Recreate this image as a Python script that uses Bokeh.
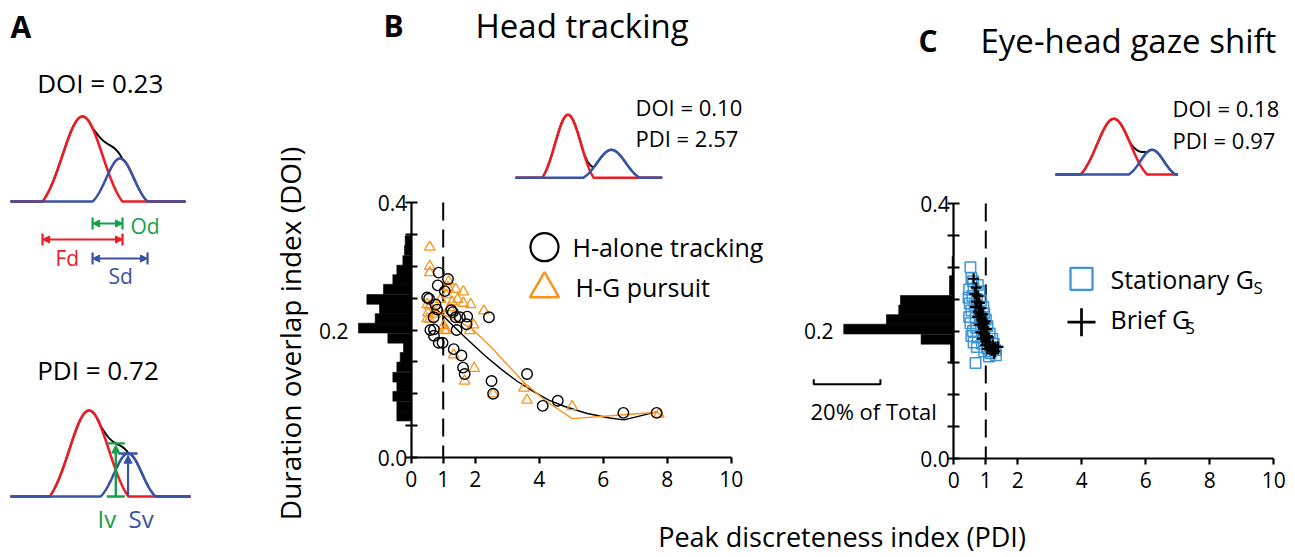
import numpy as np
from bokeh.plotting import figure
from bokeh.models import (Range1d, LinearAxis, FixedTicker, Label, Arrow, NormalHead,
                          PrintfTickFormatter)
from bokeh.embed import file_html
from bokeh.resources import INLINE

FONT = "Open Sans"

# ---------------- data ----------------
# DOI histogram bins (shared by both panels), values in % of total
doi_bin_centers = [0.065, 0.080, 0.096, 0.111, 0.126, 0.142, 0.157, 0.172, 0.187, 0.203,
                   0.218, 0.233, 0.248, 0.264, 0.279, 0.294, 0.309, 0.325, 0.340]
doi_bin_width = 0.0153
head_hist_pct = [4.3, 4.3, 5.5, 4.3, 5.5, 4.3, 3.3, 2.3, 7.0, 15.8,
                 10.8, 9.5, 13.3, 8.3, 5.5, 4.3, 2.5, 2.0, 1.8]
gaze_hist_pct = [0, 0, 0, 0, 0, 0, 1.0, 1.0, 9.8, 33.0,
                 20.2, 16.5, 16.0, 1.3, 1.3, 0.5, 0.5, 0, 0]

# Panel B: head tracking
halone_pdi = [0.86, 1.15, 0.83, 1.05, 0.50, 0.56, 0.76, 0.81, 0.70, 1.25, 1.30, 1.39, 1.52,
              1.75, 1.73, 2.43, 0.60, 0.71, 1.42, 0.71, 0.86, 0.98, 1.33, 1.57, 1.62, 1.67,
              2.51, 2.56, 3.62, 4.11, 4.58, 6.63, 7.67]
halone_doi = [0.290, 0.280, 0.270, 0.261, 0.251, 0.249, 0.240, 0.232, 0.220, 0.231, 0.228,
              0.220, 0.220, 0.221, 0.209, 0.220, 0.200, 0.201, 0.200, 0.191, 0.180, 0.180,
              0.170, 0.160, 0.141, 0.131, 0.120, 0.100, 0.131, 0.081, 0.089, 0.070, 0.070]
hg_pdi = [0.58, 0.58, 0.58, 1.15, 1.17, 1.39, 1.63, 0.92, 1.28, 1.63, 1.86, 2.27, 0.58, 0.50,
          0.52, 0.58, 0.50, 1.02, 1.95, 1.83, 1.04, 1.10, 1.33, 1.97, 1.67, 2.56, 3.52, 3.62,
          5.03, 7.74, 0.75, 1.20, 1.45, 0.85, 1.10]
hg_doi = [0.330, 0.300, 0.290, 0.267, 0.276, 0.264, 0.260, 0.248, 0.244, 0.242, 0.240, 0.230,
          0.238, 0.240, 0.227, 0.217, 0.218, 0.207, 0.208, 0.199, 0.200, 0.199, 0.161, 0.140,
          0.120, 0.100, 0.109, 0.090, 0.080, 0.068, 0.225, 0.235, 0.248, 0.232, 0.255]
halone_fit_pdi = [0.8, 1.3, 1.8, 2.3, 2.8, 3.3, 3.8, 4.3, 4.8, 5.5, 6.2, 6.65, 7.7]
halone_fit_doi = [0.232, 0.207, 0.183, 0.160, 0.139, 0.120, 0.104, 0.090, 0.080, 0.069, 0.062, 0.059, 0.072]
hg_fit_pdi = [0.9, 1.5, 1.9, 2.5, 3.0, 3.52, 4.2, 5.03, 6.65, 7.7, 7.85]
hg_fit_doi = [0.226, 0.213, 0.202, 0.173, 0.146, 0.118, 0.089, 0.061, 0.067, 0.071, 0.064]

# Panel C: eye-head gaze shift
stat_pdi = [0.52, 0.55, 0.60, 0.75, 0.48, 0.62, 0.80, 0.46, 0.58, 0.72, 0.85, 0.50, 0.65, 0.92,
            0.55, 0.78, 0.95, 0.48, 0.68, 1.00, 0.52, 0.85, 1.05, 0.60, 0.95, 1.12, 0.55, 0.75,
            1.20, 0.62, 0.88, 1.25, 0.72, 1.05, 1.30, 0.95, 1.15, 1.32, 1.10, 0.68, 0.70, 0.90]
stat_doi = [0.300, 0.283, 0.278, 0.272, 0.265, 0.266, 0.262, 0.252, 0.255, 0.250, 0.248, 0.243,
            0.240, 0.238, 0.232, 0.230, 0.228, 0.222, 0.220, 0.218, 0.212, 0.210, 0.208, 0.200,
            0.198, 0.196, 0.192, 0.190, 0.188, 0.182, 0.180, 0.180, 0.175, 0.172, 0.170, 0.168,
            0.165, 0.162, 0.160, 0.150, 0.205, 0.215]
brief_pdi = [0.62, 0.70, 0.66, 0.75, 0.72, 0.80, 0.68, 0.85, 0.78, 0.90, 0.75, 0.88, 0.98, 0.80,
             0.92, 1.02, 0.85, 0.95, 1.05, 0.90, 1.00, 1.10, 1.00, 1.12, 1.22, 1.05, 1.18, 1.30,
             1.38, 1.28, 1.25, 0.82, 0.95, 1.08]
brief_doi = [0.282, 0.268, 0.258, 0.255, 0.246, 0.244, 0.238, 0.236, 0.230, 0.226, 0.222, 0.218,
             0.215, 0.210, 0.206, 0.203, 0.198, 0.195, 0.192, 0.188, 0.185, 0.182, 0.178, 0.176,
             0.178, 0.172, 0.170, 0.175, 0.175, 0.168, 0.165, 0.226, 0.212, 0.190]

pdi_ticks = [0, 1, 2, 4, 6, 8, 10]
doi_ticks = [0.0, 0.4]
doi_minor_ticks = [0.05, 0.10, 0.15, 0.20, 0.25, 0.30, 0.35]
pdi_threshold = 1.0
scale_bar_pct = 20

# schematic bumps: (onset, offset, amplitude) in arbitrary time units 0..100
schem_doi = dict(red=(18.3, 64.0, 1.0), blue=(46.9, 78.3, 0.506))
schem_pdi = dict(red=(21.7, 65.6, 1.0), blue=(50.0, 80.6, 0.50))
schem_head = dict(red=(18.2, 53.4, 1.0), blue=(46.1, 84.7, 0.444))
schem_gaze = dict(red=(20.8, 76.4, 1.0), blue=(61.0, 100.0, 0.443))

RED, BLUE, GREEN = "#ed1c24", "#3953a4", "#16a04a"
ORANGE, LBLUE = "#f7941d", "#3d95d5"

# ---------------- layout helpers ----------------
W, H, M = 1295, 557, 0


def lin(v0, pix0, ppu, total):
    s = v0 - pix0 / ppu
    return Range1d(start=s, end=s + total / ppu)


def xr(v0, page_x, ppu):
    return lin(v0, page_x - M, ppu, W)


def yr(v0, page_y, ppu):
    return lin(v0, H - (page_y - M), ppu, H)


p = figure(width=W, height=H, output_backend="svg", toolbar_location=None,
           x_axis_type=None, y_axis_type=None, min_border=0,
           x_range=xr(0, 410.7, 32), y_range=yr(0, 457.0, 637.5))
p.outline_line_color = None
p.background_fill_color = "white"
p.border_fill_color = "white"
p.extra_x_ranges = {
    "cx": xr(0, 953.3, 32), "hB": xr(0, 410.7, -3.335), "hC": xr(0, 953.3, -3.335),
    "px": xr(0, 0, 1),
    "a1x": xr(0, 10, 1.75), "a2x": xr(0, 10, 1.8),
    "ibx": xr(0, 515, 1.467), "icx": xr(0, 1055, 1.2),
}
p.extra_y_ranges = {
    "cy": yr(0, 458.0, 637.5), "py": yr(0, 0, -1),
    "a1y": yr(0, 201, 85), "a2y": yr(0, 496, 86),
    "iby": yr(0, 177.3, 63), "icy": yr(0, 174, 55.7),
}


def txt(s, x, y, size, color="black", align="left", style="normal", angle=0.0):
    # y is the vertical centre of the text
    p.add_layout(Label(x=x, y=y, text=s, x_range_name="px", y_range_name="py",
                       text_font=FONT, text_font_size=f"{size}px", text_color=color,
                       text_align=align, text_baseline="middle", text_font_style=style,
                       angle=angle))


def bump(t, on, off, amp):
    mu = (on + off) / 2.0
    s = (off - on) / 4.0
    z = (t - mu) / s
    g = (np.exp(-z ** 2 / 2) - np.exp(-2)) / (1 - np.exp(-2))
    return np.where(np.abs(z) <= 2, amp * g, 0.0)


def schematic(par, xn, yn, tmax=100):
    t = np.linspace(0, tmax, 801)
    r = bump(t, *par["red"])
    b = bump(t, *par["blue"])
    kw = dict(x_range_name=xn, y_range_name=yn)
    p.line(t, r + b, line_color="black", line_width=2, **kw)
    p.line(t, r, line_color=RED, line_width=2.6, **kw)
    p.line(t, b, line_color=BLUE, line_width=2.6, **kw)
    return t, r, b


def axes(xn, yn):
    common = dict(x_range_name=xn, y_range_name=yn, fixed_location=0,
                  axis_line_width=2.2, axis_line_color="black",
                  major_tick_line_width=2.2, minor_tick_line_width=2.2,
                  major_label_text_font=FONT, major_label_text_font_size="21px",
                  major_label_text_color="black")
    ya = LinearAxis(bounds=(0, 0.4),
                    ticker=FixedTicker(ticks=doi_ticks, minor_ticks=doi_minor_ticks),
                    formatter=PrintfTickFormatter(format="%.1f"),
                    major_tick_in=6, major_tick_out=6, minor_tick_in=6, minor_tick_out=6,
                    major_label_standoff=-2, **common)
    p.add_layout(ya, "left")
    xa = LinearAxis(bounds=(0, 10), ticker=FixedTicker(ticks=pdi_ticks, minor_ticks=[]),
                    formatter=PrintfTickFormatter(format="%d"),
                    major_tick_in=0, major_tick_out=6, minor_tick_in=0, minor_tick_out=0,
                    major_label_standoff=7, **common)
    p.add_layout(xa, "below")


# ---------------- panel B ----------------
p.hbar(y=doi_bin_centers, height=doi_bin_width, left=0, right=head_hist_pct,
       fill_color="black", line_color="black", line_width=0.6, x_range_name="hB")
axes("default", "default")
p.segment(x0=[pdi_threshold], y0=[0.4], x1=[pdi_threshold], y1=[0.0],
          line_color="black", line_width=2, line_dash="18 9")
p.line(halone_fit_pdi, halone_fit_doi, line_color="black", line_width=1.4)
p.line(hg_fit_pdi, hg_fit_doi, line_color=ORANGE, line_width=1.4)
p.scatter(hg_pdi, hg_doi, marker="triangle", size=10.5, fill_color=None,
          line_color=ORANGE, line_width=1.3)
p.scatter(halone_pdi, halone_doi, marker="circle", size=10.5, fill_color=None,
          line_color="black", line_width=1.4)

# ---------------- panel C ----------------
p.hbar(y=doi_bin_centers, height=doi_bin_width, left=0, right=gaze_hist_pct,
       fill_color="black", line_color="black", line_width=0.6,
       x_range_name="hC", y_range_name="cy")
axes("cx", "cy")
p.segment(x0=[pdi_threshold], y0=[0.4], x1=[pdi_threshold], y1=[0.0],
          line_color="black", line_width=2, line_dash="18 9",
          x_range_name="cx", y_range_name="cy")
p.scatter(stat_pdi, stat_doi, marker="square", size=10.5, fill_color=None,
          line_color=LBLUE, line_width=1.5, x_range_name="cx", y_range_name="cy")
p.scatter(brief_pdi, brief_doi, marker="cross", size=11, line_color="black",
          line_width=2.2, x_range_name="cx", y_range_name="cy")
# scale bar (20% of total) drawn in histogram units
sb0, sby, sbt = 22, 0.1165, 0.008
p.line([sb0, sb0, sb0 + scale_bar_pct, sb0 + scale_bar_pct], [sby + sbt, sby, sby, sby + sbt],
       line_color="black", line_width=2, x_range_name="hC", y_range_name="cy")

# ---------------- legends ----------------
p.scatter([544], [246.7], marker="circle", size=28, fill_color=None, line_color="black",
          line_width=2.3, x_range_name="px", y_range_name="py")
p.scatter([544], [288.3], marker="triangle", size=29, fill_color=None, line_color=ORANGE,
          line_width=2.5, x_range_name="px", y_range_name="py")
p.scatter([1081], [278.3], marker="square", size=22, fill_color=None, line_color=LBLUE,
          line_width=2.3, x_range_name="px", y_range_name="py")
p.scatter([1081], [321.7], marker="cross", size=28, line_color="black",
          line_width=2.7, x_range_name="px", y_range_name="py")

# ---------------- schematics ----------------
schematic(schem_head, "ibx", "iby")
schematic(schem_gaze, "icx", "icy", tmax=102)
schematic(schem_doi, "a1x", "a1y")
t2, r2, b2 = schematic(schem_pdi, "a2x", "a2y")

# DOI schematic duration arrows
def darrow(x0, x1, yv, color, xn, yn, cap=0.07):
    p.add_layout(Arrow(x_start=x0, y_start=yv, x_end=x1, y_end=yv, line_color=color,
                       line_width=2,
                       start=NormalHead(size=7, fill_color=color, line_color=color),
                       end=NormalHead(size=7, fill_color=color, line_color=color),
                       x_range_name=xn, y_range_name=yn))
    p.segment(x0=[x0, x1], y0=[yv - cap, yv - cap], x1=[x0, x1], y1=[yv + cap, yv + cap],
              line_color=color, line_width=2.2, x_range_name=xn, y_range_name=yn)

ron, roff, _ = schem_doi["red"]
bon, boff, _ = schem_doi["blue"]
darrow(bon, roff, -0.259, GREEN, "a1x", "a1y")
darrow(ron, roff, -0.447, RED, "a1x", "a1y")
darrow(bon, boff, -0.671, BLUE, "a1x", "a1y")

# PDI schematic: intersection value (Iv) and second peak value (Sv)
mask = (t2 > schem_pdi["blue"][0]) & (t2 < schem_pdi["red"][1])
idx = np.where(mask)[0][np.argmin(np.abs(r2[mask] - b2[mask]))]
t_iv, iv = t2[idx], r2[idx] + b2[idx]
t_sv = (schem_pdi["blue"][0] + schem_pdi["blue"][1]) / 2
sv = schem_pdi["blue"][2]
kw2 = dict(x_range_name="a2x", y_range_name="a2y")
p.add_layout(Arrow(x_start=t_iv, y_start=0, x_end=t_iv, y_end=iv - 0.02, line_color=GREEN,
                   line_width=2.4, end=NormalHead(size=8, fill_color=GREEN, line_color=GREEN),
                   **kw2))
p.segment(x0=[t_iv - 5, t_iv - 5], y0=[0, iv], x1=[t_iv + 5, t_iv + 5], y1=[0, iv],
          line_color=GREEN, line_width=2.4, **kw2)
p.add_layout(Arrow(x_start=t_sv, y_start=0, x_end=t_sv, y_end=sv - 0.02, line_color=BLUE,
                   line_width=2.2, end=NormalHead(size=8, fill_color=BLUE, line_color=BLUE),
                   **kw2))
p.segment(x0=[t_sv - 5.3], y0=[sv], x1=[t_sv + 5.3], y1=[sv],
          line_color=BLUE, line_width=2.4, **kw2)

# ---------------- texts (y = vertical centre) ----------------
txt("A", 10, 26, 30, style="bold")
txt("DOI = 0.23", 36.7, 82.3, 26)
txt("Od", 130, 225.5, 21, color=GREEN)
txt("Fd", 55, 257.5, 21, color=RED)
txt("Sd", 108, 275, 21, color=BLUE)
txt("PDI = 0.72", 36.7, 369, 26)
txt("Iv", 97, 517.5, 24, color=GREEN)
txt("Sv", 128, 517.5, 24, color=BLUE)

txt("B", 383, 25, 30, style="bold")
txt("Head tracking", 475, 25, 33)
txt("DOI = 0.10", 635, 106.7, 22)
txt("PDI = 2.57", 635, 137.5, 22)
txt("H-alone tracking", 572, 246.7, 25)
txt("H-G pursuit", 575, 286, 25)
txt("0.2", 348, 330, 21, align="right")

txt("C", 918, 40, 30, style="bold")
txt("Eye-head gaze shift", 980, 40, 33)
txt("DOI = 0.18", 1172, 107, 22)
txt("PDI = 0.97", 1172, 139, 22)
txt("Stationary G", 1110, 278, 25)
txt("S", 1253, 286.7, 17)
txt("Brief G", 1110, 318, 25)
txt("S", 1185, 326.7, 17)
txt("0.2", 833, 330, 21, align="right")
txt("20% of Total", 810, 410.5, 22)

txt("Duration overlap index (DOI)", 289, 333, 28, align="center", angle=np.pi / 2)
txt("Peak discreteness index (PDI)", 841.5, 536, 27, align="center")

open("out.html", "w").write(file_html(p, INLINE))
